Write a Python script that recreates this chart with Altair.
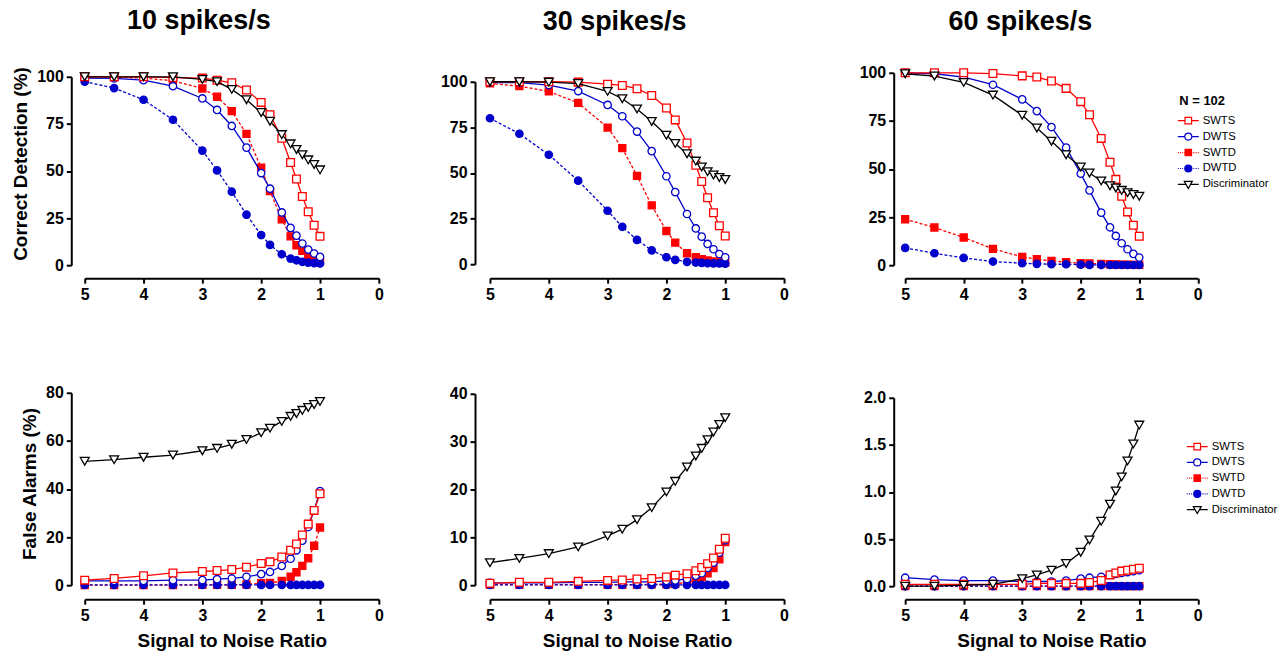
import altair as alt
import pandas as pd

# ---------------- data ----------------
SNR = [5, 4.5, 4, 3.5, 3, 2.75, 2.5, 2.25, 2, 1.85, 1.65, 1.5, 1.4, 1.3, 1.2, 1.1, 1.0]
SERIES = ["SWTS", "DWTS", "SWTD", "DWTD", "Discriminator"]

# Correct detection (%)
cd10_swts = [100, 100, 100, 99.6, 99.3, 98.2, 96.8, 93.0, 86.4, 79.9, 67.4, 54.5, 45.7, 36.5, 28.4, 21.2, 15.3]
cd10_dwts = [99.3, 99.1, 98.2, 95.0, 88.5, 82.4, 73.9, 62.4, 48.9, 40.6, 28.0, 19.8, 15.7, 11.5, 8.3, 6.2, 4.4]
cd10_swtd = [100, 99.8, 99.3, 97.9, 93.8, 89.4, 81.8, 69.7, 51.7, 39.3, 24.3, 15.3, 10.6, 7.6, 4.9, 3.2, 2.3]
cd10_dwtd = [97.4, 94.0, 87.8, 77.2, 60.8, 50.3, 39.0, 26.8, 16.0, 10.8, 5.8, 3.5, 2.6, 1.8, 1.4, 1.1, 0.9]
cd10_disc = [100, 100, 100, 100, 98.6, 97.4, 93.3, 87.8, 81.0, 76.4, 69.3, 64.4, 61.4, 58.6, 55.9, 53.4, 50.6]

cd30_swts = [100, 100, 100, 99.8, 98.7, 98.0, 96.2, 92.5, 85.6, 79.1, 66.4, 54.2, 45.3, 36.4, 28.2, 21.1, 15.5]
cd30_dwts = [99.6, 99.5, 98.2, 94.9, 87.3, 81.1, 72.7, 62.0, 48.2, 39.5, 27.5, 19.6, 15.1, 11.1, 8.2, 5.6, 3.8]
cd30_swtd = [99.1, 97.6, 94.7, 88.4, 74.9, 63.6, 48.4, 32.2, 18.2, 11.8, 6.0, 3.8, 2.7, 2.0, 1.5, 1.1, 0.9]
cd30_dwtd = [80.0, 71.5, 60.0, 45.8, 29.3, 20.5, 13.3, 7.6, 3.8, 2.4, 1.3, 0.9, 0.7, 0.5, 0.4, 0.4, 0.3]
cd30_disc = [100, 100, 99.8, 99.0, 94.7, 90.7, 85.1, 78.2, 70.7, 66.2, 60.5, 56.5, 53.3, 50.7, 48.9, 47.5, 46.4]

cd60_swts = [100, 100, 100, 99.6, 98.4, 97.8, 95.7, 91.9, 85.0, 78.2, 65.9, 53.5, 44.6, 35.8, 27.7, 20.8, 15.0]
cd60_dwts = [100, 99.5, 97.8, 93.8, 86.2, 80.1, 71.8, 61.1, 47.6, 38.9, 27.3, 19.7, 15.2, 11.4, 8.3, 5.9, 4.0]
cd60_swtd = [23.9, 19.6, 14.4, 8.5, 4.3, 3.1, 2.2, 1.6, 1.0, 0.9, 0.7, 0.5, 0.4, 0.3, 0.3, 0.2, 0.2]
cd60_dwtd = [9.0, 6.2, 3.8, 1.9, 1.0, 0.7, 0.5, 0.5, 0.3, 0.2, 0.2, 0.1, 0.1, 0.1, 0.1, 0.1, 0.1]
cd60_disc = [99.5, 98.3, 95.0, 88.4, 77.9, 71.3, 64.4, 57.4, 51.0, 47.9, 43.8, 41.3, 40.1, 38.9, 37.7, 36.7, 35.8]

# False alarms (%)
fa10_swts = [2.1, 2.8, 3.9, 5.1, 5.7, 6.1, 6.5, 7.5, 9.0, 9.7, 11.7, 14.5, 17.1, 20.9, 25.4, 31.1, 38.0]
fa10_dwts = [1.8, 1.8, 1.8, 2.1, 2.1, 2.5, 2.8, 3.5, 4.6, 5.5, 8.0, 11.0, 14.5, 18.5, 24.2, 31.1, 39.1]
fa10_swtd = [0.0, 0.0, 0.0, 0.0, 0.1, 0.1, 0.2, 0.3, 0.8, 0.9, 1.8, 3.5, 5.4, 8.0, 11.2, 16.4, 24.0]
fa10_dwtd = [0.1, 0.1, 0.1, 0.1, 0.1, 0.1, 0.1, 0.1, 0.1, 0.1, 0.1, 0.1, 0.1, 0.1, 0.1, 0.1, 0.1]
fa10_disc = [51.5, 52.2, 53.2, 54.1, 55.9, 56.9, 58.6, 60.6, 63.4, 65.3, 68.1, 70.2, 71.4, 72.7, 73.9, 75.1, 76.4]

fa30_swts = [0.4, 0.6, 0.6, 0.8, 1.0, 1.1, 1.3, 1.4, 1.7, 2.1, 2.4, 3.0, 3.7, 4.5, 5.7, 7.5, 9.8]
fa30_dwts = [0.5, 0.5, 0.5, 0.6, 0.6, 0.7, 0.7, 0.7, 0.9, 1.0, 1.3, 2.0, 2.5, 3.6, 4.7, 6.8, 9.4]
fa30_swtd = [0.1, 0.1, 0.1, 0.1, 0.1, 0.1, 0.1, 0.2, 0.2, 0.3, 0.6, 1.1, 1.7, 2.5, 3.6, 5.4, 9.0]
fa30_dwtd = [0.05, 0.05, 0.05, 0.05, 0.05, 0.05, 0.05, 0.05, 0.05, 0.05, 0.05, 0.05, 0.05, 0.05, 0.05, 0.05, 0.05]
fa30_disc = [4.7, 5.6, 6.6, 8.0, 10.3, 11.7, 13.7, 16.2, 19.5, 21.7, 24.7, 27.0, 28.6, 30.4, 32.0, 33.6, 35.0]

fa60_swts = [0.02, 0.02, 0.02, 0.02, 0.02, 0.03, 0.03, 0.03, 0.03, 0.04, 0.06, 0.12, 0.14, 0.16, 0.17, 0.18, 0.19]
fa60_dwts = [0.09, 0.07, 0.06, 0.06, 0.05, 0.05, 0.05, 0.06, 0.08, 0.09, 0.10, 0.12, 0.13, 0.14, 0.15, 0.16, 0.17]
fa60_swtd = [0.0, 0.0, 0.0, 0.0, 0.0, 0.0, 0.0, 0.0, 0.0, 0.0, 0.0, 0.0, 0.0, 0.0, 0.0, 0.0, 0.0]
fa60_dwtd = [0.0, 0.0, 0.0, 0.0, 0.0, 0.0, 0.0, 0.0, 0.0, 0.0, 0.0, 0.0, 0.0, 0.0, 0.0, 0.0, 0.0]
fa60_disc = [0.0, 0.0, 0.01, 0.02, 0.08, 0.12, 0.17, 0.24, 0.36, 0.49, 0.69, 0.87, 1.01, 1.16, 1.33, 1.51, 1.71]

CD = {
    "10": [cd10_swts, cd10_dwts, cd10_swtd, cd10_dwtd, cd10_disc],
    "30": [cd30_swts, cd30_dwts, cd30_swtd, cd30_dwtd, cd30_disc],
    "60": [cd60_swts, cd60_dwts, cd60_swtd, cd60_dwtd, cd60_disc],
}
FA = {
    "10": [fa10_swts, fa10_dwts, fa10_swtd, fa10_dwtd, fa10_disc],
    "30": [fa30_swts, fa30_dwts, fa30_swtd, fa30_dwtd, fa30_disc],
    "60": [fa60_swts, fa60_dwts, fa60_swtd, fa60_dwtd, fa60_disc],
}

# ---------------- styles ----------------
RED = "#FF0000"
BLUE = "#0000CC"
BLACK = "#000000"
STYLE = {
    "SWTS": dict(color=RED, shape="square", fill="white", dash=None, size=60),
    "DWTS": dict(color=BLUE, shape="circle", fill="white", dash=None, size=55),
    "SWTD": dict(color=RED, shape="square", fill=RED, dash=[3, 2], size=50),
    "DWTD": dict(color=BLUE, shape="circle", fill=BLUE, dash=[3, 2], size=55),
    "Discriminator": dict(color=BLACK, shape="triangle-down", fill="white", dash=None, size=80),
}
DRAW_ORDER = ["SWTD", "DWTD", "DWTS", "SWTS", "Discriminator"]

DOTS = ("M-1.31,0H-1.19M-1.04,0H-0.92M-0.77,0H-0.65M-0.52,0H-0.45"
        "M0.45,0H0.52M0.65,0H0.77M0.92,0H1.04M1.19,0H1.31")
LEG_PATHS = [
    "M-1.31,0H-0.41M0.41,0H1.31M-0.41,-0.41H0.41V0.41H-0.41Z",
    "M-1.31,0H-0.44M0.44,0H1.31M-0.44,0A0.44,0.44 0 1,0 0.44,0A0.44,0.44 0 1,0 -0.44,0Z",
    DOTS + "M-0.4,-0.4H0.4V0.4H-0.4Z",
    DOTS + "M-0.44,0A0.44,0.44 0 1,0 0.44,0A0.44,0.44 0 1,0 -0.44,0Z",
    "M-1.31,0H-0.32M0.32,0H1.31M-0.5,-0.38H0.5L0,0.5Z",
]
LEG_STROKE = [RED, BLUE, RED, BLUE, BLACK]
LEG_FILL = ["white", "white", RED, BLUE, "white"]

FONT = "Liberation Sans"
W = 295


def make_df(values):
    rows = []
    for name, vals in zip(SERIES, values):
        for s, v in zip(SNR, vals):
            rows.append({"snr": s, "value": v, "series": name})
    return pd.DataFrame(rows)


def panel(values, ydomain, yrange, yticks, yfmt, height, xrange, yoffset,
          ytitle=None, xtitle=None, title=None, title_dx=0, title_offset=30, legend=None):
    df = make_df(values)
    x_axis = dict(values=[5, 4, 3, 2, 1, 0], offset=13, labelFlush=False, format="d")
    x_axis["title"] = xtitle if xtitle else None
    y_axis = dict(values=yticks, offset=yoffset, format=yfmt)
    if ytitle:
        y_axis["title"] = ytitle
        y_axis["titleY"] = 91
    else:
        y_axis["title"] = None
    x = alt.X("snr:Q", scale=alt.Scale(domain=[5, 0], range=xrange, nice=False, zero=False),
              axis=alt.Axis(**x_axis))
    y = alt.Y("value:Q", scale=alt.Scale(domain=ydomain, range=yrange, nice=False, zero=False),
              axis=alt.Axis(**y_axis))
    layers = []
    for name in DRAW_ORDER:
        st = STYLE[name]
        sub = df[df["series"] == name]
        lkw = dict(color=st["color"], strokeWidth=1.3)
        if st["dash"]:
            lkw["strokeDash"] = st["dash"]
        layers.append(alt.Chart(sub).mark_line(**lkw).encode(x=x, y=y))
        layers.append(
            alt.Chart(sub).mark_point(shape=st["shape"], size=st["size"], filled=True,
                                      fill=st["fill"], stroke=st["color"], strokeWidth=1.3,
                                      opacity=1).encode(x=x, y=y)
        )
    if legend is not None:
        ldf = pd.DataFrame({"series": SERIES, "snr": [2.5] * 5, "value": [ydomain[0] - 1000] * 5})
        lkw = dict(orient="none", legendX=legend["x"], legendY=legend["y"],
                   labelFont=FONT, labelFontSize=11.3, labelColor="black",
                   symbolSize=256, symbolStrokeWidth=1.2, rowPadding=legend["row"], labelOffset=5.5,
                   padding=0)
        if legend.get("title"):
            lkw.update(title=legend["title"], titleFont=FONT, titleFontSize=13,
                       titleFontWeight="bold", titleColor="black", titlePadding=4)
        else:
            lkw["title"] = None
        leg = alt.Legend(**lkw)
        layers.append(
            alt.Chart(ldf).mark_point(clip=True, filled=True, opacity=1).encode(
                x=x, y=y,
                shape=alt.Shape("series:N", scale=alt.Scale(domain=SERIES, range=LEG_PATHS), legend=leg),
                stroke=alt.Stroke("series:N", scale=alt.Scale(domain=SERIES, range=LEG_STROKE), legend=leg),
                fill=alt.Fill("series:N", scale=alt.Scale(domain=SERIES, range=LEG_FILL), legend=leg),
            )
        )
    props = dict(width=W, height=height)
    if title:
        props["title"] = alt.TitleParams(title, anchor="middle", frame="group", dx=title_dx,
                                         font=FONT, fontSize=27, fontWeight="bold",
                                         color="black", offset=title_offset)
    return alt.layer(*layers).properties(**props)


TOP_H = 193
BOT_H = 194
XR1 = [0, 295]
XR2 = [-10, 285]
XR3 = [-10, 283.5]

t1 = panel(CD["10"], [0, 100], [193, 4], [0, 25, 50, 75, 100], "d", TOP_H, XR1, 13.5,
           ytitle="Correct Detection (%)", title="10 spikes/s", title_dx=-33, title_offset=32)
t2 = panel(CD["30"], [0, 100], [192, 9], [0, 25, 50, 75, 100], "d", TOP_H, XR2, 25,
           title="30 spikes/s", title_dx=-32.5, title_offset=37)
t3 = panel(CD["60"], [0, 100], [193, 0], [0, 25, 50, 75, 100], "d", TOP_H, XR3, 21.5,
           title="60 spikes/s", title_dx=-42, title_offset=29,
           legend={"x": 265, "y": 22, "title": "N = 102", "row": 1.0})

b1 = panel(FA["10"], [0, 80], [193, 0], [0, 20, 40, 60, 80], "d", BOT_H, XR1, 13.5,
           ytitle="False Alarms (%)", xtitle="Signal to Noise Ratio")
b2 = panel(FA["30"], [0, 40], [193, 1], [0, 10, 20, 30, 40], "d", BOT_H, XR2, 25,
           xtitle="Signal to Noise Ratio")
b3 = panel(FA["60"], [0, 2], [194, 5], [0, 0.5, 1.0, 1.5, 2.0], ".1f", BOT_H, XR3, 21.5,
           xtitle="Signal to Noise Ratio", legend={"x": 274, "y": 45, "row": 0.8})

RES = dict(shape="independent", stroke="independent", fill="independent")

chart = alt.concat(t1, t2, t3, b1, b2, b3, columns=3, bounds="flush",
                   spacing={"row": 128, "column": 121.5}).resolve_scale(**RES).resolve_legend(**RES)

chart = chart.properties(
    padding={"left": 11, "top": 5, "right": 4, "bottom": 2},
    background="white",
).configure_view(stroke=None).configure_axis(
    domainColor="black", domainWidth=2, tickColor="black", tickWidth=2, tickSize=5,
    labelFont=FONT, labelFontSize=16, labelFontWeight="bold", labelColor="black",
    labelPadding=3, titleFont=FONT, titleFontSize=19, titleFontWeight="bold",
    titleColor="black", grid=False, labelOverlap=False,
).configure_axisY(titlePadding=6).configure_axisX(titlePadding=8)

chart.save("out.html", embed_options={"renderer": "svg", "actions": False})
